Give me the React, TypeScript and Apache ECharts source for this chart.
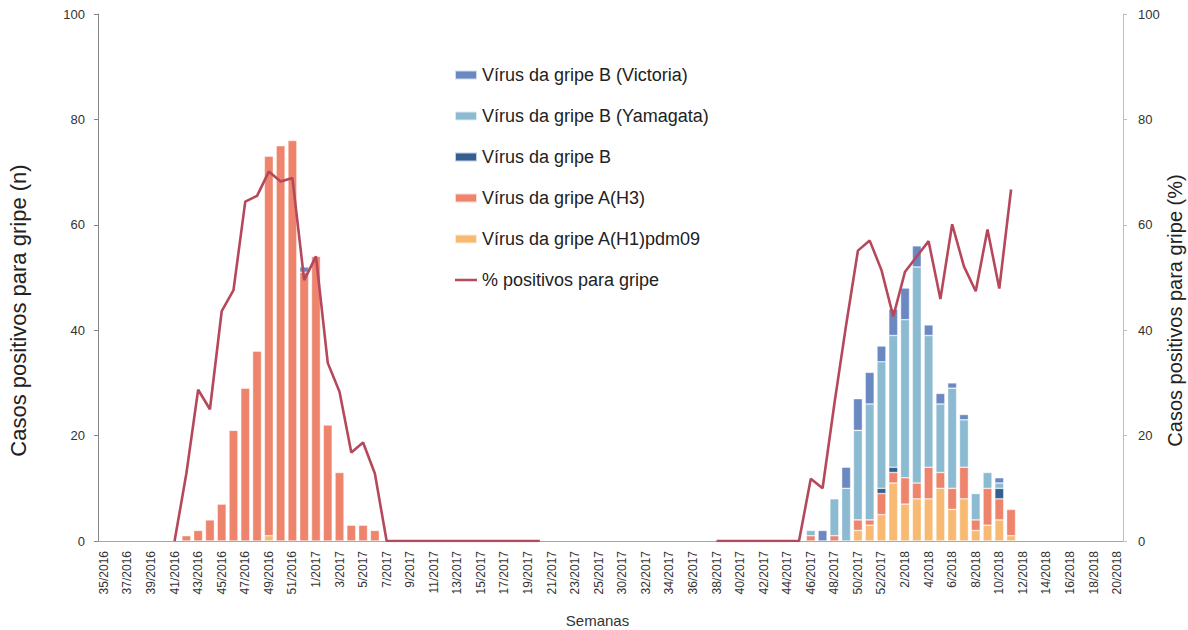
import React, { useEffect, useRef } from "react";
import * as echarts from "echarts";

const _ = null;

const categories: string[] = [
  "35/2016", "36/2016", "37/2016", "38/2016", "39/2016", "40/2016", "41/2016", "42/2016", "43/2016",
  "44/2016", "45/2016", "46/2016", "47/2016", "48/2016", "49/2016", "50/2016", "51/2016", "52/2016",
  "1/2017", "2/2017", "3/2017", "4/2017", "5/2017", "6/2017", "7/2017", "8/2017", "9/2017", "10/2017",
  "11/2017", "12/2017", "13/2017", "14/2017", "15/2017", "16/2017", "17/2017", "18/2017", "19/2017",
  "20/2017", "21/2017", "22/2017", "23/2017", "24/2017", "25/2017",
  "29/2017", "30/2017", "31/2017", "32/2017", "33/2017", "34/2017", "35/2017", "36/2017", "37/2017",
  "38/2017", "39/2017", "40/2017", "41/2017", "42/2017", "43/2017", "44/2017", "45/2017", "46/2017",
  "47/2017", "48/2017", "49/2017", "50/2017", "51/2017", "52/2017",
  "1/2018", "2/2018", "3/2018", "4/2018", "5/2018", "6/2018", "7/2018", "8/2018", "9/2018", "10/2018",
  "11/2018", "12/2018", "13/2018", "14/2018", "15/2018", "16/2018", "17/2018", "18/2018", "19/2018",
  "20/2018",
];

// Rows: weeks 35-52/2016 (18) | 1-25/2017 (25) | 29-52/2017 (24) | 1-20/2018 (20)
const h1pdm09 = [
  _, _, _, _, _, _, _, _, _, _, _, _, _, _, 1, _, _, _,
  _, _, _, _, _, _, _, _, _, _, _, _, _, _, _, _, _, _, _, _, _, _, _, _, _,
  _, _, _, _, _, _, _, _, _, _, _, _, _, _, _, _, _, _, _, _, _, 2, 3, 5,
  11, 7, 8, 8, 10, 6, 8, 2, 3, 4, 1, _, _, _, _, _, _, _, _, _,
];

const h3 = [
  _, _, _, _, _, _, _, 1, 2, 4, 7, 21, 29, 36, 72, 75, 76, 51,
  54, 22, 13, 3, 3, 2, _, _, _, _, _, _, _, _, _, _, _, _, _, _, _, _, _, _, _,
  _, _, _, _, _, _, _, _, _, _, _, _, _, _, _, _, _, 1, _, 1, _, 2, 1, 4,
  2, 5, 3, 6, 3, 4, 6, 2, 7, 4, 5, _, _, _, _, _, _, _, _, _,
];

const fluB = [
  _, _, _, _, _, _, _, _, _, _, _, _, _, _, _, _, _, _,
  _, _, _, _, _, _, _, _, _, _, _, _, _, _, _, _, _, _, _, _, _, _, _, _, _,
  _, _, _, _, _, _, _, _, _, _, _, _, _, _, _, _, _, _, _, _, _, _, _, 1,
  1, _, _, _, _, _, _, _, _, 2, _, _, _, _, _, _, _, _, _, _,
];

const yamagata = [
  _, _, _, _, _, _, _, _, _, _, _, _, _, _, _, _, _, _,
  _, _, _, _, _, _, _, _, _, _, _, _, _, _, _, _, _, _, _, _, _, _, _, _, _,
  _, _, _, _, _, _, _, _, _, _, _, _, _, _, _, _, _, 1, _, 7, 10, 17, 22, 24,
  25, 30, 41, 25, 13, 19, 9, 5, 3, 1, _, _, _, _, _, _, _, _, _, _,
];

const victoria = [
  _, _, _, _, _, _, _, _, _, _, _, _, _, _, _, _, _, 1,
  _, _, _, _, _, _, _, _, _, _, _, _, _, _, _, _, _, _, _, _, _, _, _, _, _,
  _, _, _, _, _, _, _, _, _, _, _, _, _, _, _, _, _, _, 2, _, 4, 6, 6, 3,
  5, 6, 4, 2, 2, 1, 1, _, _, 1, _, _, _, _, _, _, _, _, _, _,
];

const pctPositive = [
  _, _, _, _, _, _, 0, 12.8, 28.7, 25.0, 43.6, 47.6, 64.4, 65.5, 70.1, 68.2, 68.9, 49.5,
  54.0, 33.8, 28.3, 16.8, 18.7, 12.8, 0, 0, 0, 0, 0, 0, 0, 0, 0, 0, 0, 0, 0, 0, _, _, _, _, _,
  _, _, _, _, _, _, _, _, _, 0, 0, 0, 0, 0, 0, 0, 0, 11.8, 10.0, 26, 41, 55.1, 57.0, 51.4,
  42.6, 51.1, 54.0, 56.9, 45.9, 60.1, 52.1, 47.4, 59.1, 47.9, 66.7, _, _, _, _, _, _, _, _, _,
];

const NAMES = {
  vic: "Vírus da gripe B (Victoria)",
  yam: "Vírus da gripe B (Yamagata)",
  b: "Vírus da gripe B",
  h3: "Vírus da gripe A(H3)",
  h1: "Vírus da gripe A(H1)pdm09",
  pct: "% positivos para gripe",
};

const COLORS = {
  vic: "#6A88C1",
  yam: "#8BBAD1",
  b: "#365F91",
  h3: "#EE846C",
  h1: "#F8BA72",
  pct: "#B5485B",
};

const FONT = "'Liberation Sans', Arial, sans-serif";
const LINE_ICON = "path://M0,0H22V0.01H0Z M0,3.2H22V5.8H0Z M0,8.99H22V9H0Z";

export default function App() {
  const ref = useRef<HTMLDivElement>(null);

  useEffect(() => {
    if (!ref.current) return;
    const chart = echarts.init(ref.current, undefined, { renderer: "svg" });

    const barSeries = (key: keyof typeof COLORS, data: (number | null)[]) => ({
      type: "bar",
      name: NAMES[key],
      stack: "total",
      data,
      barWidth: "76%",
      yAxisIndex: 0,
      itemStyle: {
        color: COLORS[key],
        borderColor: "rgba(255,255,255,0.7)",
        borderWidth: 0.6,
      },
    });

    const option = {
      animation: false,
      backgroundColor: "#ffffff",
      textStyle: { fontFamily: FONT },
      grid: { left: 98, right: 65, top: 14, bottom: 89, outerBoundsMode: "none" },
      legend: {
        orient: "vertical",
        left: 449,
        top: 60,
        itemWidth: 22,
        itemHeight: 9,
        itemGap: 21,
        textStyle: { fontSize: 18, color: "#222", lineHeight: 20, fontFamily: FONT },
        data: [
          { name: NAMES.vic, icon: "rect" },
          { name: NAMES.yam, icon: "rect" },
          { name: NAMES.b, icon: "rect" },
          { name: NAMES.h3, icon: "rect" },
          { name: NAMES.h1, icon: "rect" },
          { name: NAMES.pct, icon: LINE_ICON, itemStyle: { color: COLORS.pct } },
        ],
      },
      xAxis: {
        type: "category",
        data: categories,
        boundaryGap: true,
        axisLine: { lineStyle: { color: "#A6A6A6", width: 1 } },
        axisTick: { interval: 0, length: 4, lineStyle: { color: "#A6A6A6" } },
        axisLabel: { interval: 1, rotate: 90, fontSize: 12, color: "#333", margin: 10, fontFamily: FONT },
        name: "Semanas",
        nameLocation: "middle",
        nameGap: 72,
        nameTextStyle: { fontSize: 15, color: "#333", padding: [0, 26, 0, 0], fontFamily: FONT },
      },
      yAxis: [
        {
          type: "value",
          position: "left",
          min: 0,
          max: 100,
          interval: 20,
          axisLine: { show: true, lineStyle: { color: "#868686" } },
          axisTick: { show: true, length: 4, lineStyle: { color: "#868686" } },
          splitLine: { show: false },
          axisLabel: { fontSize: 13, color: "#333", margin: 13, fontFamily: FONT },
          name: "Casos positivos para gripe (n)",
          nameLocation: "middle",
          nameRotate: 90,
          nameGap: 69,
          nameTextStyle: { fontSize: 22, color: "#222", fontFamily: FONT, padding: [0, 66, 0, 0] },
        },
        {
          type: "value",
          position: "right",
          min: 0,
          max: 100,
          interval: 20,
          axisLine: { show: true, lineStyle: { color: "#BFBFBF" } },
          axisTick: { show: true, length: 4, lineStyle: { color: "#BFBFBF" } },
          splitLine: { show: false },
          axisLabel: { fontSize: 13, color: "#333", margin: 15, fontFamily: FONT },
          name: "Casos positivos para gripe (%)",
          nameLocation: "middle",
          nameRotate: 90,
          nameGap: 42,
          nameMoveOverlap: false,
          nameTextStyle: { fontSize: 20, color: "#222", fontFamily: FONT, padding: [0, 66, 0, 0] },
        },
      ],
      series: [
        barSeries("h1", h1pdm09),
        barSeries("h3", h3),
        barSeries("b", fluB),
        barSeries("yam", yamagata),
        barSeries("vic", victoria),
        {
          type: "line",
          name: NAMES.pct,
          yAxisIndex: 1,
          data: pctPositive,
          symbol: "none",
          connectNulls: false,
          z: 5,
          lineStyle: { color: COLORS.pct, width: 2.6 },
          itemStyle: { color: COLORS.pct },
        },
      ],
    };

    chart.setOption(option as any);
    return () => chart.dispose();
  }, []);

  return (
    <div
      ref={ref}
      style={{ position: "fixed", left: 0, top: 0, width: 1188, height: 630, background: "#fff" }}
    />
  );
}
